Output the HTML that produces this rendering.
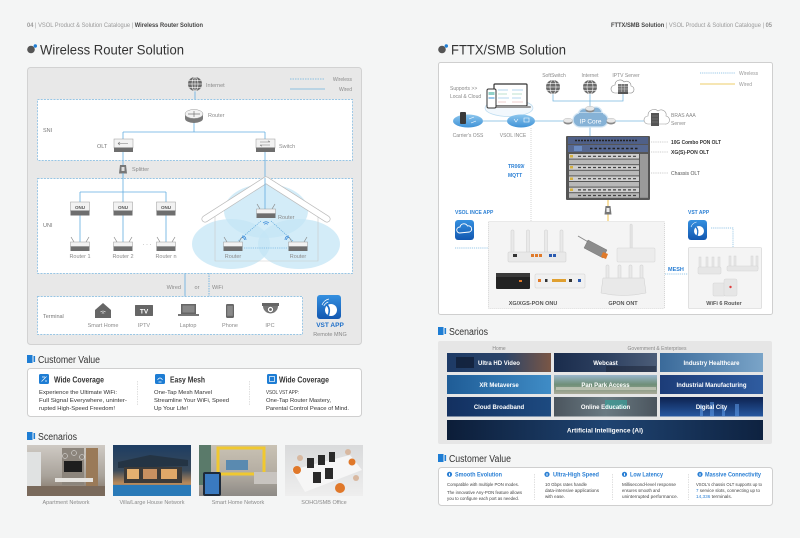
<!DOCTYPE html>
<html><head><meta charset="utf-8"><style>
html,body{margin:0;padding:0;background:#f4f5f5;}
svg{display:block;font-family:"Liberation Sans",Arial,sans-serif;}
</style></head><body>
<svg width="800" height="538" viewBox="0 0 800 538" xmlns="http://www.w3.org/2000/svg">
<defs>
<linearGradient id="blueG" x1="0" y1="0" x2="0" y2="1"><stop offset="0" stop-color="#3590e0"/><stop offset="1" stop-color="#1257b0"/></linearGradient>
<linearGradient id="ellG" x1="0" y1="0" x2="0" y2="1"><stop offset="0" stop-color="#8cc6ee"/><stop offset="1" stop-color="#3f92d6"/></linearGradient>
<linearGradient id="img1" x1="0" y1="0" x2="0" y2="1"><stop offset="0" stop-color="#cfcac4"/><stop offset="0.6" stop-color="#a9a39b"/><stop offset="1" stop-color="#7d6e60"/></linearGradient>
<linearGradient id="img2" x1="0" y1="0" x2="0" y2="1"><stop offset="0" stop-color="#1d3d63"/><stop offset="0.5" stop-color="#3a4a5a"/><stop offset="0.75" stop-color="#b98a5a"/><stop offset="1" stop-color="#1f6aa8"/></linearGradient>
<linearGradient id="img3" x1="0" y1="0" x2="0" y2="1"><stop offset="0" stop-color="#c9c2b4"/><stop offset="0.55" stop-color="#b4ada2"/><stop offset="1" stop-color="#8d8a86"/></linearGradient>
<linearGradient id="img4" x1="0" y1="0" x2="0" y2="1"><stop offset="0" stop-color="#d9dadb"/><stop offset="1" stop-color="#eeeeee"/></linearGradient>
<linearGradient id="t11" x1="0" y1="0" x2="1" y2="0"><stop offset="0" stop-color="#1d3a66"/><stop offset="0.55" stop-color="#2b4468"/><stop offset="1" stop-color="#7a5645"/></linearGradient>
<linearGradient id="t12" x1="0" y1="0" x2="1" y2="0"><stop offset="0" stop-color="#1a2c4c"/><stop offset="0.5" stop-color="#2d4060"/><stop offset="1" stop-color="#4c5d78"/></linearGradient>
<linearGradient id="t13" x1="0" y1="0" x2="1" y2="0"><stop offset="0" stop-color="#3a6a9a"/><stop offset="1" stop-color="#7aa4c8"/></linearGradient>
<linearGradient id="t21" x1="0" y1="0" x2="1" y2="0"><stop offset="0" stop-color="#1f5c96"/><stop offset="1" stop-color="#3f8cc6"/></linearGradient>
<linearGradient id="t22" x1="0" y1="0" x2="0" y2="1"><stop offset="0" stop-color="#9ab6cc"/><stop offset="0.5" stop-color="#6f8f78"/><stop offset="1" stop-color="#a9aa98"/></linearGradient>
<linearGradient id="t23" x1="0" y1="0" x2="1" y2="0"><stop offset="0" stop-color="#1c3c78"/><stop offset="1" stop-color="#2f5ca0"/></linearGradient>
<linearGradient id="t31" x1="0" y1="0" x2="1" y2="0"><stop offset="0" stop-color="#133060"/><stop offset="1" stop-color="#1d4a80"/></linearGradient>
<linearGradient id="t32" x1="0" y1="0" x2="1" y2="0"><stop offset="0" stop-color="#4b555e"/><stop offset="0.5" stop-color="#6a7a82"/><stop offset="1" stop-color="#4b555e"/></linearGradient>
<linearGradient id="t33" x1="0" y1="0" x2="0" y2="1"><stop offset="0" stop-color="#0d2250"/><stop offset="1" stop-color="#2658a0"/></linearGradient>
<linearGradient id="tai" x1="0" y1="0" x2="1" y2="0"><stop offset="0" stop-color="#0c1d38"/><stop offset="0.5" stop-color="#1f4472"/><stop offset="1" stop-color="#0e2240"/></linearGradient>
</defs>
<rect width="800" height="538" fill="#f4f5f5"/>

<!-- ============ LEFT PAGE ============ -->
<text x="27" y="27" font-size="6" fill="#9a9a9a" textLength="176" lengthAdjust="spacingAndGlyphs"><tspan font-weight="bold">04</tspan> | VSOL Product &amp; Solution Catalogue | <tspan font-weight="bold" fill="#444">Wireless Router Solution</tspan></text>
<circle cx="31" cy="49.5" r="3.8" fill="#555"/><circle cx="35.3" cy="46" r="1.7" fill="#1e7dd4"/>
<text x="40" y="54.5" font-size="14" fill="#333" textLength="144" lengthAdjust="spacingAndGlyphs">Wireless Router Solution</text>

<rect x="27.5" y="67.5" width="334" height="277" rx="3" fill="#e8e8e8" stroke="#d2d2d2"/>
<line x1="290" y1="79" x2="325" y2="79" stroke="#6fb2dd" stroke-width="0.8" stroke-dasharray="1.5 1"/>
<text x="352" y="81" font-size="5" fill="#8a8a8a" text-anchor="end">Wireless</text>
<line x1="290" y1="89" x2="325" y2="89" stroke="#6fb2dd" stroke-width="0.8"/>
<text x="352" y="91" font-size="5" fill="#8a8a8a" text-anchor="end">Wired</text>

<line x1="195" y1="91" x2="195" y2="112" stroke="#62ade0" stroke-width="0.8"/>
<g transform="translate(195,84)"><circle r="7" fill="#6a6a6a"/><ellipse rx="3" ry="7" fill="none" stroke="#fff" stroke-width="0.6"/><line x1="-7" x2="7" stroke="#fff" stroke-width="0.6"/><line x1="-6" x2="6" y1="-3.5" y2="-3.5" stroke="#fff" stroke-width="0.6"/><line x1="-6" x2="6" y1="3.5" y2="3.5" stroke="#fff" stroke-width="0.6"/><line y1="-7" y2="7" stroke="#fff" stroke-width="0.6"/></g>
<text x="206" y="87" font-size="5.5" fill="#8a8a8a">Internet</text>

<rect x="37.5" y="99.5" width="315" height="61" fill="#fff" stroke="#79b6e0" stroke-width="0.7" stroke-dasharray="2 1.2"/>
<text x="43" y="132" font-size="5.5" fill="#777">SNI</text>
<line x1="194" y1="120" x2="194" y2="132" stroke="#62ade0" stroke-width="0.8"/>
<line x1="123" y1="132" x2="265" y2="132" stroke="#62ade0" stroke-width="0.8"/>
<line x1="123" y1="132" x2="123" y2="192" stroke="#62ade0" stroke-width="0.8"/>
<line x1="265" y1="132" x2="265" y2="209" stroke="#62ade0" stroke-width="0.8"/>
<ellipse cx="194" cy="118.5" rx="9" ry="4.5" fill="#7a7a7a"/>
<rect x="185" y="114" width="18" height="4.5" fill="#7a7a7a"/>
<ellipse cx="194" cy="114" rx="9" ry="4.5" fill="#f2f2f2" stroke="#999" stroke-width="0.5"/>
<path d="M188,114 h12 M194,111 v6" stroke="#777" stroke-width="0.7"/>
<text x="208" y="117" font-size="5.5" fill="#8a8a8a">Router</text>
<rect x="114" y="139" width="19" height="9" fill="#f2f2f2" stroke="#999" stroke-width="0.5"/>
<rect x="114" y="147.5" width="19" height="4.5" fill="#6e6e6e"/>
<path d="M118,143.5 h10 M118,143.5 l2,-1.5 M118,143.5 l2,1.5" stroke="#777" stroke-width="0.6" fill="none"/>
<text x="97" y="148" font-size="5.5" fill="#777">OLT</text>
<rect x="256" y="139" width="19" height="9" fill="#f2f2f2" stroke="#999" stroke-width="0.5"/>
<rect x="256" y="147.5" width="19" height="4.5" fill="#6e6e6e"/>
<path d="M260,142 h10 M260,145 h10 M270,142 l-2,-1.2 M260,145 l2,1.2" stroke="#777" stroke-width="0.6" fill="none"/>
<text x="279" y="148" font-size="5.5" fill="#8a8a8a">Switch</text>
<path d="M119,173.5 L120,165 L126,165 L127,173.5 Z" fill="#777"/>
<rect x="121.5" y="167" width="3" height="4" fill="#ddd"/>
<text x="132" y="171" font-size="5.5" fill="#8a8a8a">Splitter</text>

<rect x="37.5" y="178.5" width="315" height="95" fill="#fff" stroke="#79b6e0" stroke-width="0.7" stroke-dasharray="2 1.2"/>
<text x="43" y="227" font-size="5.5" fill="#777">UNI</text>
<line x1="123" y1="173" x2="123" y2="192" stroke="#62ade0" stroke-width="0.8"/>
<line x1="80" y1="192" x2="166" y2="192" stroke="#62ade0" stroke-width="0.8"/>
<g stroke="#62ade0" stroke-width="0.8">
<line x1="80" y1="192" x2="80" y2="242"/><line x1="123" y1="192" x2="123" y2="242"/><line x1="166" y1="192" x2="166" y2="242"/>
</g>
<g>
<rect x="70.5" y="202" width="19" height="9" fill="#f2f2f2" stroke="#999" stroke-width="0.5"/><rect x="70.5" y="210.5" width="19" height="5" fill="#6e6e6e"/>
<text x="80" y="209" font-size="4.5" font-weight="bold" fill="#555" text-anchor="middle">ONU</text>
<rect x="113.5" y="202" width="19" height="9" fill="#f2f2f2" stroke="#999" stroke-width="0.5"/><rect x="113.5" y="210.5" width="19" height="5" fill="#6e6e6e"/>
<text x="123" y="209" font-size="4.5" font-weight="bold" fill="#555" text-anchor="middle">ONU</text>
<rect x="156.5" y="202" width="19" height="9" fill="#f2f2f2" stroke="#999" stroke-width="0.5"/><rect x="156.5" y="210.5" width="19" height="5" fill="#6e6e6e"/>
<text x="166" y="209" font-size="4.5" font-weight="bold" fill="#555" text-anchor="middle">ONU</text>
</g>
<g stroke="#888" stroke-width="0.7">
<path d="M74,242 l-3,-5 M86,242 l3,-5 M117,242 l-3,-5 M129,242 l3,-5 M160,242 l-3,-5 M172,242 l3,-5"/>
</g>
<g>
<rect x="70.5" y="242" width="19" height="4.5" fill="#f2f2f2" stroke="#999" stroke-width="0.5"/><rect x="70.5" y="246.5" width="19" height="4.5" fill="#6e6e6e"/>
<rect x="113.5" y="242" width="19" height="4.5" fill="#f2f2f2" stroke="#999" stroke-width="0.5"/><rect x="113.5" y="246.5" width="19" height="4.5" fill="#6e6e6e"/>
<rect x="156.5" y="242" width="19" height="4.5" fill="#f2f2f2" stroke="#999" stroke-width="0.5"/><rect x="156.5" y="246.5" width="19" height="4.5" fill="#6e6e6e"/>
</g>
<text x="80" y="258" font-size="5.5" fill="#8a8a8a" text-anchor="middle">Router 1</text>
<text x="123" y="258" font-size="5.5" fill="#8a8a8a" text-anchor="middle">Router 2</text>
<text x="166" y="258" font-size="5.5" fill="#8a8a8a" text-anchor="middle">Router n</text>
<text x="147" y="246" font-size="6" fill="#888" text-anchor="middle">· · ·</text>

<g fill="#c4e5f6" fill-opacity="0.75">
<ellipse cx="266" cy="211" rx="42" ry="27"/>
<ellipse cx="231" cy="244" rx="39" ry="25"/>
<ellipse cx="299" cy="244" rx="41" ry="25"/>
</g>
<path d="M215,209 V261 H318 V209" fill="none" stroke="#c9c9c9" stroke-width="0.6"/>
<polyline points="205,219 266,180 327,219" fill="none" stroke="#bbbbbb" stroke-width="7" stroke-linecap="round" stroke-linejoin="round"/>
<polyline points="205,219 266,180 327,219" fill="none" stroke="#ffffff" stroke-width="5.6" stroke-linecap="round" stroke-linejoin="round"/>
<line x1="265" y1="178" x2="265" y2="209" stroke="#62ade0" stroke-width="0.8"/>
<g stroke="#4d9ed8" stroke-width="0.6" stroke-dasharray="1.2 1" fill="none">
<line x1="261" y1="221" x2="238" y2="241"/>
<line x1="271" y1="221" x2="293" y2="241"/>
<line x1="244" y1="248" x2="288" y2="248"/>
</g>
<g stroke="#888" stroke-width="0.7"><path d="M260,209 l-3,-5 M272,209 l3,-5 M227,242 l-3,-5 M239,242 l3,-5 M292,242 l-3,-5 M304,242 l3,-5"/></g>
<rect x="256.5" y="209" width="19" height="4.5" fill="#f2f2f2" stroke="#999" stroke-width="0.5"/><rect x="256.5" y="213.5" width="19" height="4.5" fill="#6e6e6e"/>
<rect x="223.5" y="242" width="19" height="4.5" fill="#f2f2f2" stroke="#999" stroke-width="0.5"/><rect x="223.5" y="246.5" width="19" height="4.5" fill="#6e6e6e"/>
<rect x="288.5" y="242" width="19" height="4.5" fill="#f2f2f2" stroke="#999" stroke-width="0.5"/><rect x="288.5" y="246.5" width="19" height="4.5" fill="#6e6e6e"/>
<g fill="none" stroke="#2a7fd4" stroke-width="0.7">
<path d="M263,223 q3,-2.5 6,0 M264.2,224.3 q1.8,-1.4 3.6,0"/>
<path d="M246,240 q0,-4 -4,-4 M244.5,240 q0,-2.5 -2.5,-2.5"/>
<path d="M285,240 q0,-4 4,-4 M286.5,240 q0,-2.5 2.5,-2.5"/>
</g>
<text x="278" y="219" font-size="5.5" fill="#8a8a8a">Router</text>
<text x="233" y="258" font-size="5.5" fill="#8a8a8a" text-anchor="middle">Router</text>
<text x="298" y="258" font-size="5.5" fill="#8a8a8a" text-anchor="middle">Router</text>

<line x1="185" y1="273" x2="185" y2="297" stroke="#62ade0" stroke-width="0.8"/>
<line x1="209" y1="273" x2="209" y2="297" stroke="#62ade0" stroke-width="0.8" stroke-dasharray="1.5 1"/>
<text x="181" y="289" font-size="5.5" fill="#8a8a8a" text-anchor="end">Wired</text>
<text x="197" y="289" font-size="5.5" fill="#8a8a8a" text-anchor="middle">or</text>
<text x="212" y="289" font-size="5.5" fill="#8a8a8a">WiFi</text>

<rect x="37.5" y="296.5" width="265" height="38" fill="#fff" stroke="#79b6e0" stroke-width="0.7" stroke-dasharray="2 1.2"/>
<text x="43" y="318" font-size="5.5" fill="#777">Terminal</text>
<path d="M95,310 L103,303 L111,310 V318 H95 Z" fill="#666"/>
<path d="M100.5,312 q2.5,-2 5,0 M101.8,313.3 q1.2,-1 2.4,0" stroke="#fff" stroke-width="0.6" fill="none"/>
<rect x="135" y="305" width="18" height="11" rx="0.6" fill="#666"/>
<text x="144" y="313.5" font-size="6.5" font-weight="bold" fill="#fff" text-anchor="middle">TV</text>
<rect x="181" y="304" width="15" height="10" fill="#666"/><rect x="182.5" y="305.5" width="12" height="7" fill="#888"/>
<rect x="178" y="314" width="21" height="2" fill="#777"/>
<rect x="226" y="304" width="8" height="14" rx="1.2" fill="#666"/><rect x="227.2" y="305.8" width="5.6" height="10" fill="#8a8a8a"/>
<rect x="262" y="303" width="17" height="3" fill="#666"/>
<path d="M263,306 A7.5,7.5 0 0 0 278,306 Z" fill="#777"/>
<circle cx="270.5" cy="309.5" r="3" fill="#fff" stroke="#666" stroke-width="0.6"/><circle cx="270.5" cy="309.5" r="1.4" fill="#666"/>
<g font-size="5.5" fill="#8a8a8a" text-anchor="middle">
<text x="103" y="327">Smart Home</text><text x="144" y="327">IPTV</text><text x="188" y="327">Laptop</text><text x="230" y="327">Phone</text><text x="270" y="327">IPC</text>
</g>
<rect x="317" y="295" width="24" height="24" rx="3" fill="url(#blueG)"/>
<circle cx="331" cy="310" r="6" fill="#fff"/>
<path d="M327,305 q4,4 1,11" stroke="#1e6fc9" stroke-width="1.6" fill="none"/>
<path d="M322,305 q2,-5 7,-6 M323.8,306 q1.5,-3 4.5,-4" stroke="#fff" stroke-width="0.7" fill="none"/>
<text x="330" y="327" font-size="6.5" font-weight="bold" fill="#1e6fc9" text-anchor="middle">VST APP</text>
<text x="330" y="336" font-size="5.5" fill="#888" text-anchor="middle">Remote MNG</text>

<rect x="27" y="355" width="5.5" height="8" fill="#1e7dd4"/><rect x="33.5" y="356" width="1.6" height="6" fill="#1e7dd4"/>
<text x="38" y="363" font-size="10" fill="#333" textLength="62" lengthAdjust="spacingAndGlyphs">Customer Value</text>
<rect x="27.5" y="368.5" width="334" height="48" rx="3" fill="#fff" stroke="#cfcfcf"/>
<rect x="39" y="374" width="10" height="10" rx="1.5" fill="#1e7dd4"/>
<rect x="155" y="374" width="10" height="10" rx="1.5" fill="#1e7dd4"/>
<rect x="267" y="374" width="10" height="10" rx="1.5" fill="#1e7dd4"/>
<path d="M41.5,381.5 l5,-5 M42,377 h3 M45,381 h2" stroke="#fff" stroke-width="0.7"/>
<path d="M157.5,380 q2.5,-4 5,0 M158.5,382 h3" stroke="#fff" stroke-width="0.7" fill="none"/>
<rect x="269.5" y="376.5" width="5" height="5" stroke="#fff" stroke-width="0.7" fill="none"/>
<g font-size="8" font-weight="bold" fill="#333">
<text x="54" y="382.5" textLength="50" lengthAdjust="spacingAndGlyphs">Wide Coverage</text>
<text x="170" y="382.5" textLength="35" lengthAdjust="spacingAndGlyphs">Easy Mesh</text>
<text x="279" y="382.5" textLength="50" lengthAdjust="spacingAndGlyphs">Wide Coverage</text>
</g>
<g font-size="5.5" fill="#333">
<text x="39" y="394" textLength="78" lengthAdjust="spacingAndGlyphs">Experience the Ultimate WiFi:</text>
<text x="39" y="402" textLength="88" lengthAdjust="spacingAndGlyphs">Full Signal Everywhere, uninter-</text>
<text x="39" y="410" textLength="76" lengthAdjust="spacingAndGlyphs">rupted High-Speed Freedom!</text>
<text x="154" y="394" textLength="58" lengthAdjust="spacingAndGlyphs">One-Tap Mesh Marvel</text>
<text x="154" y="402" textLength="75" lengthAdjust="spacingAndGlyphs">Streamline Your WiFi, Speed</text>
<text x="154" y="410" textLength="34" lengthAdjust="spacingAndGlyphs">Up Your Life!</text>
<text x="266" y="394" textLength="33" lengthAdjust="spacingAndGlyphs">VSOL VST APP:</text>
<text x="266" y="402" textLength="65" lengthAdjust="spacingAndGlyphs">One-Tap Router Mastery,</text>
<text x="266" y="410" textLength="83" lengthAdjust="spacingAndGlyphs">Parental Control Peace of Mind.</text>
</g>
<line x1="137.5" y1="381" x2="137.5" y2="405" stroke="#ccc" stroke-width="0.6" stroke-dasharray="1.5 1"/>
<line x1="249.5" y1="381" x2="249.5" y2="405" stroke="#ccc" stroke-width="0.6" stroke-dasharray="1.5 1"/>

<rect x="27" y="432" width="5.5" height="8" fill="#1e7dd4"/><rect x="33.5" y="433" width="1.6" height="6" fill="#1e7dd4"/>
<text x="38" y="440" font-size="10" fill="#333" textLength="39" lengthAdjust="spacingAndGlyphs">Scenarios</text>
<rect x="27" y="445" width="78" height="51" fill="url(#img1)"/>
<rect x="27" y="452" width="14" height="36" fill="#e0e2e2"/>
<rect x="62" y="448" width="22" height="37" fill="#8c857c"/>
<rect x="64" y="461" width="18" height="11" fill="#1e1e1e"/>
<rect x="86" y="448" width="12" height="42" fill="#9a7a58"/>
<rect x="55" y="478" width="38" height="4" fill="#e6e4e0"/>
<rect x="27" y="486" width="78" height="10" fill="#7a6a5c"/>
<circle cx="65" cy="456" r="2.5" fill="none" stroke="#eee" stroke-width="0.5"/><circle cx="74" cy="453" r="2.5" fill="none" stroke="#eee" stroke-width="0.5"/><circle cx="82" cy="457" r="2.5" fill="none" stroke="#eee" stroke-width="0.5"/>
<rect x="113" y="445" width="78" height="51" fill="url(#img2)"/>
<path d="M118,462 L150,455 L188,460 L188,466 L118,468 Z" fill="#243444"/>
<rect x="124" y="467" width="58" height="16" fill="#3c3a38"/>
<rect x="127" y="469" width="12" height="10" fill="#e4b070"/><rect x="143" y="469" width="14" height="10" fill="#c89060"/><rect x="161" y="469" width="16" height="10" fill="#e0a868"/>
<rect x="113" y="485" width="78" height="11" fill="#2a7ab8"/>
<rect x="199" y="445" width="78" height="51" fill="url(#img3)"/>
<rect x="218" y="448" width="46" height="26" fill="none" stroke="#f0c830" stroke-width="3"/>
<rect x="226" y="460" width="22" height="10" fill="#5a8ab0"/>
<rect x="199" y="445" width="12" height="40" fill="#5a7a6a"/>
<rect x="254" y="472" width="23" height="12" fill="#c8c4c0"/>
<rect x="203" y="472" width="18" height="24" rx="2" fill="#1e2a3a"/><rect x="205" y="474" width="14" height="20" fill="#3a7ac0"/>
<rect x="285" y="445" width="78" height="51" fill="url(#img4)"/>
<path d="M292,470 L350,455 L362,470 L305,492 Z" fill="#f6f6f6"/>
<g fill="#2a2a2a"><rect x="307" y="458" width="7" height="10"/><rect x="318" y="455" width="7" height="10"/><rect x="329" y="452" width="6" height="10"/><rect x="313" y="472" width="8" height="11"/><rect x="325" y="468" width="8" height="11"/></g>
<g fill="#e0782a"><circle cx="297" cy="470" r="4"/><circle cx="352" cy="462" r="3.5"/><circle cx="340" cy="488" r="5"/></g>
<g fill="#d8b8a0"><circle cx="300" cy="458" r="3"/><circle cx="348" cy="452" r="3"/><circle cx="356" cy="478" r="3"/></g>
<g font-size="5.5" fill="#8a8a8a" text-anchor="middle">
<text x="66" y="504">Apartment Network</text>
<text x="152" y="504">Villa/Large House Network</text>
<text x="238" y="504">Smart Home Network</text>
<text x="324" y="504">SOHO/SMB Office</text>
</g>

<!-- ============ RIGHT PAGE ============ -->
<text x="772" y="27" font-size="6" fill="#9a9a9a" text-anchor="end" textLength="161" lengthAdjust="spacingAndGlyphs"><tspan font-weight="bold" fill="#444">FTTX/SMB Solution</tspan> | VSOL Product &amp; Solution Catalogue | <tspan font-weight="bold">05</tspan></text>
<circle cx="442" cy="49.5" r="3.8" fill="#555"/><circle cx="446.3" cy="46" r="1.7" fill="#1e7dd4"/>
<text x="451" y="54.5" font-size="14" fill="#333" textLength="115" lengthAdjust="spacingAndGlyphs">FTTX/SMB Solution</text>

<rect x="438.5" y="62.5" width="334" height="252" rx="2" fill="#fff" stroke="#cfcfcf"/>
<line x1="700" y1="73" x2="735" y2="73" stroke="#7ab7df" stroke-width="0.7" stroke-dasharray="1.2 0.9"/>
<text x="739" y="75" font-size="5" fill="#999">Wireless</text>
<line x1="700" y1="84" x2="735" y2="84" stroke="#f3dd9c" stroke-width="1.5"/>
<text x="739" y="86" font-size="5" fill="#999">Wired</text>

<g font-size="5" fill="#8a8a8a" text-anchor="middle">
<text x="554" y="77">SoftSwitch</text><text x="590" y="77">Internet</text><text x="626" y="77">IPTV Server</text>
</g>
<g stroke="#7ab7df" stroke-width="0.8" fill="none">
<path d="M553,94 V101 H623 V94 M590,94 V110"/>
<path d="M590,127 V136"/>
<path d="M483,121 H507 M535,121 H566 M614,121 H647"/>
</g>
<g transform="translate(553,87)"><circle r="7" fill="#6a6a6a"/><ellipse rx="3" ry="7" fill="none" stroke="#fff" stroke-width="0.6"/><line x1="-7" x2="7" stroke="#fff" stroke-width="0.6"/><line x1="-6" x2="6" y1="-3.5" y2="-3.5" stroke="#fff" stroke-width="0.6"/><line x1="-6" x2="6" y1="3.5" y2="3.5" stroke="#fff" stroke-width="0.6"/></g>
<g transform="translate(590,87)"><circle r="7" fill="#6a6a6a"/><ellipse rx="3" ry="7" fill="none" stroke="#fff" stroke-width="0.6"/><line x1="-7" x2="7" stroke="#fff" stroke-width="0.6"/><line x1="-6" x2="6" y1="-3.5" y2="-3.5" stroke="#fff" stroke-width="0.6"/><line x1="-6" x2="6" y1="3.5" y2="3.5" stroke="#fff" stroke-width="0.6"/></g>
<path d="M615,93 a4,4 0 0 1 0,-8 a5,5 0 0 1 9,-3 a4.5,4.5 0 0 1 7,4 a3.5,3.5 0 0 1 -1,7 Z" fill="#fff" stroke="#888" stroke-width="0.6"/>
<rect x="618" y="84" width="10" height="8" fill="#777"/><path d="M618,86.5 h10 M618,89 h10 M621.3,84 v8 M624.6,84 v8" stroke="#ddd" stroke-width="0.4"/>
<rect x="618" y="92" width="10" height="2" fill="#555"/>

<text x="450" y="90" font-size="5" fill="#888">Supports &gt;&gt;</text>
<text x="450" y="98" font-size="5" fill="#888">Local &amp; Cloud</text>
<ellipse cx="509" cy="108" rx="24" ry="8.5" fill="#f2f8fd" stroke="#bcdcf0" stroke-width="0.7"/>
<rect x="494" y="84" width="33" height="22" rx="1" fill="#fff" stroke="#333" stroke-width="1.2"/>
<g stroke-width="0.6" fill="none"><path d="M498,90 h10 M512,90 h11" stroke="#6fb0e0"/><path d="M498,94 h9 M512,94 h10" stroke="#7cc4a0"/><path d="M498,98 h11 M512,98 h9" stroke="#6fb0e0"/><path d="M498,102 h8 M512,102 h11" stroke="#e0a0a0"/></g>
<rect x="490" y="106" width="41" height="2" rx="1" fill="#999"/>
<rect x="487" y="89" width="9" height="19" rx="1.5" fill="#fff" stroke="#333" stroke-width="1"/>
<rect x="488.5" y="92" width="6" height="3" fill="#8fd0c8"/><rect x="488.5" y="97" width="6" height="2" fill="#9cc8ea"/>

<ellipse cx="468" cy="121" rx="15" ry="6.5" fill="url(#ellG)"/>
<rect x="460" y="112" width="6" height="12" rx="1" fill="#3a3a3a"/>
<path d="M469,119 l5,-2 M471,123 l5,-2" stroke="#fff" stroke-width="0.6"/>
<text x="468" y="137" font-size="5" fill="#888" text-anchor="middle">Carrier's OSS</text>
<ellipse cx="521" cy="121" rx="14" ry="6.5" fill="url(#ellG)"/>
<path d="M514,119 l2,3 l2,-3 M524,118 h5 v4 h-5 z" stroke="#fff" stroke-width="0.6" fill="none"/>
<text x="513" y="137" font-size="5" fill="#888" text-anchor="middle">VSOL INCE</text>

<g>
<circle cx="584" cy="114" r="5.5" fill="#86b2d6" stroke="#d4e6f4" stroke-width="1.3"/>
<circle cx="596" cy="113" r="6" fill="#86b2d6" stroke="#d4e6f4" stroke-width="1.3"/>
<rect x="573" y="113" width="35" height="14" rx="7" fill="#86b2d6" stroke="#d4e6f4" stroke-width="1.3"/>
<rect x="579" y="113" width="24" height="8" fill="#86b2d6"/>
<text x="590.5" y="123.5" font-size="6.5" fill="#fff" text-anchor="middle">IP Core</text>
<g fill="#8a8a8a"><ellipse cx="568" cy="122" rx="4.5" ry="2.5"/><ellipse cx="590" cy="110" rx="4.5" ry="2.5"/><ellipse cx="611" cy="122" rx="4.5" ry="2.5"/></g>
<g fill="#e8e8e8" stroke="#999" stroke-width="0.3"><ellipse cx="568" cy="120.5" rx="4.5" ry="2.3"/><ellipse cx="590" cy="108.5" rx="4.5" ry="2.3"/><ellipse cx="611" cy="120.5" rx="4.5" ry="2.3"/></g>
</g>
<path d="M648,124 a4,4 0 0 1 0,-8 a6,6 0 0 1 10,-5 a5,5 0 0 1 8,5 a4,4 0 0 1 -1,8 Z" fill="#fff" stroke="#999" stroke-width="0.6"/>
<rect x="651" y="113" width="8" height="13" fill="#555"/><path d="M652,116 h6 M652,119 h6 M652,122 h6" stroke="#999" stroke-width="0.4"/>
<text x="671" y="117" font-size="5" fill="#888">BRAS AAA</text>
<text x="671" y="125" font-size="5" fill="#888">Server</text>

<!-- Chassis OLT -->
<rect x="566" y="136" width="84" height="64" rx="1" fill="#555"/>
<rect x="568" y="137" width="80" height="7" fill="#4f6088"/>
<rect x="568" y="145" width="80" height="7" fill="#566891"/>
<line x1="575" y1="140.5" x2="638" y2="140.5" stroke="#222" stroke-width="1.6" stroke-dasharray="2 1"/>
<rect x="574" y="146" width="8" height="5" fill="#6a8ac0"/><line x1="590" y1="148.5" x2="638" y2="148.5" stroke="#222" stroke-width="1.6" stroke-dasharray="2.5 2"/>
<g>
<rect x="569" y="154" width="70" height="4.6" fill="#cfcfcf"/><rect x="569" y="159.6" width="70" height="4.6" fill="#b8b8b8"/>
<rect x="569" y="165.2" width="70" height="4.6" fill="#cfcfcf"/><rect x="569" y="170.8" width="70" height="4.6" fill="#b8b8b8"/>
<rect x="569" y="176.4" width="70" height="4.6" fill="#cfcfcf"/><rect x="569" y="182" width="70" height="4.6" fill="#b8b8b8"/>
<rect x="569" y="187.6" width="70" height="4.6" fill="#cfcfcf"/><rect x="569" y="193.2" width="70" height="4.6" fill="#b8b8b8"/>
<rect x="640" y="154" width="8" height="43.8" fill="#9a9a9a"/>
<g stroke="#444" stroke-width="1.2" stroke-dasharray="3 2"><line x1="578" y1="156.3" x2="636" y2="156.3"/><line x1="578" y1="167.5" x2="636" y2="167.5"/><line x1="578" y1="178.7" x2="636" y2="178.7"/><line x1="578" y1="189.9" x2="636" y2="189.9"/><line x1="578" y1="195.5" x2="636" y2="195.5"/></g>
<g fill="#d4b040"><rect x="570" y="155" width="3" height="2.5"/><rect x="570" y="166" width="3" height="2.5"/><rect x="570" y="177.5" width="3" height="2.5"/><rect x="570" y="188.5" width="3" height="2.5"/></g>
</g>
<g stroke="#999" stroke-width="0.5" stroke-dasharray="1 0.8"><line x1="651" y1="142" x2="668" y2="142"/><line x1="651" y1="152" x2="668" y2="152"/><line x1="651" y1="173" x2="668" y2="173"/></g>
<g font-size="5.5" fill="#333">
<text x="671" y="144" font-weight="bold" textLength="50" lengthAdjust="spacingAndGlyphs">10G Combo PON OLT</text>
<text x="671" y="154" font-weight="bold" textLength="38" lengthAdjust="spacingAndGlyphs">XG(S)-PON OLT</text>
<text x="671" y="175" fill="#555" textLength="29" lengthAdjust="spacingAndGlyphs">Chassis OLT</text>
</g>

<line x1="608" y1="200" x2="608" y2="221" stroke="#f2c24a" stroke-width="1"/>
<path d="M604.5,214.5 L605.5,206 L610.5,206 L611.5,214.5 Z" fill="#777"/><rect x="606.5" y="208" width="3" height="4" fill="#eee"/>

<text x="508" y="168" font-size="5" font-weight="bold" fill="#2a7fd4">TR069/</text>
<text x="508" y="177" font-size="5" font-weight="bold" fill="#2a7fd4">MQTT</text>
<line x1="531" y1="128" x2="531" y2="221" stroke="#bbb" stroke-width="0.6" stroke-dasharray="1 1"/>

<text x="455" y="214" font-size="5" font-weight="bold" fill="#2a7fd4">VSOL INCE APP</text>
<rect x="455" y="220" width="19" height="20" rx="3" fill="url(#blueG)"/>
<path d="M459.5,233 a3,3 0 0 1 0.5,-6 a4,4 0 0 1 7.5,-1 a3,3 0 0 1 2,6 Z" fill="none" stroke="#fff" stroke-width="0.9"/>
<line x1="455" y1="248" x2="488" y2="248" stroke="#7ab7df" stroke-width="0.7" stroke-dasharray="1.2 0.9"/>

<rect x="488.5" y="221.5" width="176" height="87" rx="1" fill="#f4f4f4" stroke="#b8b8b8" stroke-width="0.6" stroke-dasharray="1 1"/>
<g fill="#e9e9e9" stroke="#cfcfcf" stroke-width="0.5">
<rect x="511" y="230" width="3" height="23" rx="1"/><rect x="526.5" y="230" width="3" height="23" rx="1"/><rect x="544.5" y="230" width="3" height="23" rx="1"/><rect x="560" y="230" width="3" height="23" rx="1"/>
<rect x="508" y="252" width="58" height="10" rx="1"/>
</g>
<rect x="513" y="254" width="4" height="3" fill="#333"/><rect x="531" y="254" width="3" height="3" fill="#e07a2a"/><rect x="535" y="254" width="3" height="3" fill="#e07a2a"/><rect x="539" y="254" width="3" height="3" fill="#e07a2a"/><rect x="549" y="254" width="3" height="3" fill="#2a5ab0"/><rect x="553" y="254" width="3" height="3" fill="#2a5ab0"/>
<path d="M578,236 L590,243" stroke="#888" stroke-width="1"/>
<path d="M588,240 L607,250 L603,258 L584,248 Z" fill="#8c8c8c" stroke="#666" stroke-width="0.4"/>
<path d="M603,252 L608,254 L606,259 L601,257 Z" fill="#e07a2a"/>
<rect x="630" y="224" width="2.2" height="26" rx="1" fill="#e4e4e4" stroke="#ccc" stroke-width="0.4"/>
<rect x="617" y="248" width="38" height="14" rx="1" fill="#ececec" stroke="#d2d2d2" stroke-width="0.5"/>
<rect x="496" y="273" width="34" height="16" rx="1" fill="#222"/><rect x="496" y="273" width="34" height="4" fill="#3a3a3a"/><rect x="519" y="280" width="3" height="2" fill="#e07a2a"/>
<rect x="535" y="274" width="50" height="14" rx="1" fill="#f0f0f0" stroke="#d0d0d0" stroke-width="0.5"/>
<rect x="538" y="279" width="3" height="3" fill="#e07a2a"/><rect x="545" y="279" width="2.5" height="3" fill="#333"/>
<rect x="552" y="279" width="14" height="3" fill="#e0a030"/><rect x="569" y="279" width="3" height="3" fill="#333"/><rect x="578" y="279" width="3" height="3" fill="#2a5ab0"/>
<g fill="#e9e9e9" stroke="#cfcfcf" stroke-width="0.5">
<rect x="606" y="265" width="3" height="14" rx="1"/><rect x="618" y="265" width="3" height="14" rx="1"/><rect x="629" y="265" width="3" height="14" rx="1"/><rect x="640" y="265" width="3" height="14" rx="1"/>
<path d="M603,278 H644 L646,293 Q623,298 601,293 Z"/>
</g>
<text x="533" y="305" font-size="5.5" font-weight="bold" fill="#555" text-anchor="middle">XG/XGS-PON ONU</text>
<text x="623" y="305" font-size="5.5" font-weight="bold" fill="#555" text-anchor="middle">GPON ONT</text>

<text x="668" y="271" font-size="5.5" font-weight="bold" fill="#2a7fd4">MESH</text>
<line x1="665" y1="274" x2="688" y2="274" stroke="#7ab7df" stroke-width="0.7" stroke-dasharray="1.2 0.9"/>

<text x="688" y="214" font-size="5" font-weight="bold" fill="#2a7fd4">VST APP</text>
<rect x="688" y="220" width="19" height="20" rx="3" fill="url(#blueG)"/>
<circle cx="699" cy="231" r="5" fill="#fff"/>
<path d="M696,227 q3,3 1,9" stroke="#1e6fc9" stroke-width="1.3" fill="none"/>
<path d="M691,227 q1.5,-4 5.5,-5" stroke="#fff" stroke-width="0.6" fill="none"/>
<path d="M711,228 H733 V247" fill="none" stroke="#7ab7df" stroke-width="0.7" stroke-dasharray="1.2 0.9"/>

<rect x="688.5" y="247.5" width="73" height="61" rx="1" fill="#f4f4f4" stroke="#d0d0d0" stroke-width="0.6"/>
<g fill="#e6e6e6" stroke="#cfcfcf" stroke-width="0.4">
<rect x="699" y="257" width="2" height="16"/><rect x="706" y="257" width="2" height="16"/><rect x="712" y="257" width="2" height="16"/><rect x="718" y="257" width="2" height="16"/>
<rect x="698" y="267" width="23" height="7" rx="1"/>
<rect x="729" y="256" width="2" height="13"/><rect x="734" y="256" width="2" height="13"/><rect x="751" y="256" width="2" height="13"/><rect x="756" y="256" width="2" height="13"/>
<rect x="727" y="266" width="31" height="5" rx="1"/>
<rect x="713" y="283" width="12" height="13" rx="1"/><rect x="724" y="279" width="13" height="17" rx="1.5"/>
</g>
<circle cx="730.5" cy="287" r="1.2" fill="#e04040"/>
<text x="724" y="305" font-size="5.5" font-weight="bold" fill="#555" text-anchor="middle">WiFi 6 Router</text>

<rect x="438" y="327" width="5.5" height="8" fill="#1e7dd4"/><rect x="444.5" y="328" width="1.6" height="6" fill="#1e7dd4"/>
<text x="449" y="335" font-size="10" fill="#333" textLength="39" lengthAdjust="spacingAndGlyphs">Scenarios</text>
<rect x="438" y="341" width="334" height="103" rx="2" fill="#e6e6e6"/>
<text x="499" y="350" font-size="5" fill="#888" text-anchor="middle">Home</text>
<text x="657" y="350" font-size="5" fill="#888" text-anchor="middle">Government &amp; Enterprises</text>
<rect x="447" y="353" width="104" height="19" fill="url(#t11)"/>
<rect x="554" y="353" width="103" height="19" fill="url(#t12)"/>
<rect x="660" y="353" width="103" height="19" fill="url(#t13)"/>
<rect x="447" y="375" width="104" height="19" fill="url(#t21)"/>
<rect x="554" y="375" width="103" height="19" fill="url(#t22)"/>
<rect x="660" y="375" width="103" height="19" fill="url(#t23)"/>
<rect x="447" y="397" width="104" height="19.5" fill="url(#t31)"/>
<rect x="554" y="397" width="103" height="19.5" fill="url(#t32)"/>
<rect x="660" y="397" width="103" height="19.5" fill="url(#t33)"/>
<rect x="447" y="420" width="316" height="20" fill="url(#tai)"/>
<rect x="456" y="357" width="18" height="11" fill="#0e1a30" opacity="0.7"/>
<rect x="606" y="366" width="50" height="6" fill="#1a2233" opacity="0.5"/>
<rect x="556" y="387" width="100" height="3" fill="#d8d8cc" opacity="0.6"/>
<rect x="605" y="400" width="22" height="9" fill="#3aa098" opacity="0.7"/>
<g fill="#6fb0ff" opacity="0.45"><rect x="700" y="405" width="3" height="11"/><rect x="710" y="402" width="4" height="14"/><rect x="722" y="407" width="3" height="9"/><rect x="735" y="404" width="4" height="12"/></g>
<g font-size="6" font-weight="bold" fill="#fff" text-anchor="middle">
<text x="499" y="365">Ultra HD Video</text>
<text x="605.5" y="365">Webcast</text>
<text x="711.5" y="365">Industry Healthcare</text>
<text x="499" y="387">XR Metaverse</text>
<text x="605.5" y="387">Pan Park Access</text>
<text x="711.5" y="387">Industrial Manufacturing</text>
<text x="499" y="409">Cloud Broadband</text>
<text x="605.5" y="409">Online Education</text>
<text x="711.5" y="409">Digital City</text>
<text x="605" y="432.5" font-size="6.5">Artificial Intelligence (AI)</text>
</g>

<rect x="438" y="454" width="5.5" height="8" fill="#1e7dd4"/><rect x="444.5" y="455" width="1.6" height="6" fill="#1e7dd4"/>
<text x="449" y="462" font-size="10" fill="#333" textLength="62" lengthAdjust="spacingAndGlyphs">Customer Value</text>
<rect x="438.5" y="467.5" width="334" height="38" rx="3" fill="#fff" stroke="#cfcfcf"/>
<g fill="#2a7fd4"><circle cx="449.5" cy="474.3" r="2.6"/><circle cx="547" cy="474.3" r="2.6"/><circle cx="624.5" cy="474.3" r="2.6"/><circle cx="700" cy="474.3" r="2.6"/></g>
<g fill="#fff"><rect x="449" y="473.3" width="1" height="2.4"/><rect x="546.5" y="473.3" width="1" height="2.4"/><rect x="624" y="473.3" width="1" height="2.4"/><rect x="699.5" y="473.3" width="1" height="2.4"/></g>
<g font-size="6.5" font-weight="bold" fill="#2a7fd4">
<text x="455" y="476.5" textLength="47" lengthAdjust="spacingAndGlyphs">Smooth Evolution</text>
<text x="553" y="476.5" textLength="46" lengthAdjust="spacingAndGlyphs">Ultra-High Speed</text>
<text x="630" y="476.5" textLength="33" lengthAdjust="spacingAndGlyphs">Low Latency</text>
<text x="705" y="476.5" textLength="56" lengthAdjust="spacingAndGlyphs">Massive Connectivity</text>
</g>
<g font-size="4.3" fill="#444">
<text x="447" y="486" textLength="72" lengthAdjust="spacingAndGlyphs">Compatible with multiple PON modes.</text>
<text x="447" y="494" textLength="75" lengthAdjust="spacingAndGlyphs">The innovative Any-PON feature allows</text>
<text x="447" y="500" textLength="72" lengthAdjust="spacingAndGlyphs">you to configure each port as needed.</text>
<text x="545" y="486" textLength="42" lengthAdjust="spacingAndGlyphs">10 Gbps rates handle</text>
<text x="545" y="492" textLength="54" lengthAdjust="spacingAndGlyphs">data-intensive applications</text>
<text x="545" y="498" textLength="20" lengthAdjust="spacingAndGlyphs">with ease.</text>
<text x="622" y="486" textLength="54" lengthAdjust="spacingAndGlyphs">Millisecond-level response</text>
<text x="622" y="492" textLength="38" lengthAdjust="spacingAndGlyphs">ensures smooth and</text>
<text x="622" y="498" textLength="56" lengthAdjust="spacingAndGlyphs">uninterrupted performance.</text>
<text x="696" y="486" textLength="66" lengthAdjust="spacingAndGlyphs">VSOL's chassis OLT supports up to</text>
<text x="696" y="492" textLength="64" lengthAdjust="spacingAndGlyphs"><tspan fill="#2a7fd4">7</tspan> service slots, connecting up to</text>
<text x="696" y="498" textLength="36" lengthAdjust="spacingAndGlyphs"><tspan fill="#2a7fd4">14,336</tspan> terminals.</text>
</g>
<g stroke="#ccc" stroke-width="0.6" stroke-dasharray="1.5 1"><line x1="534.5" y1="474" x2="534.5" y2="500"/><line x1="612.5" y1="474" x2="612.5" y2="500"/><line x1="688.5" y1="474" x2="688.5" y2="500"/></g>
</svg>
</body></html>
